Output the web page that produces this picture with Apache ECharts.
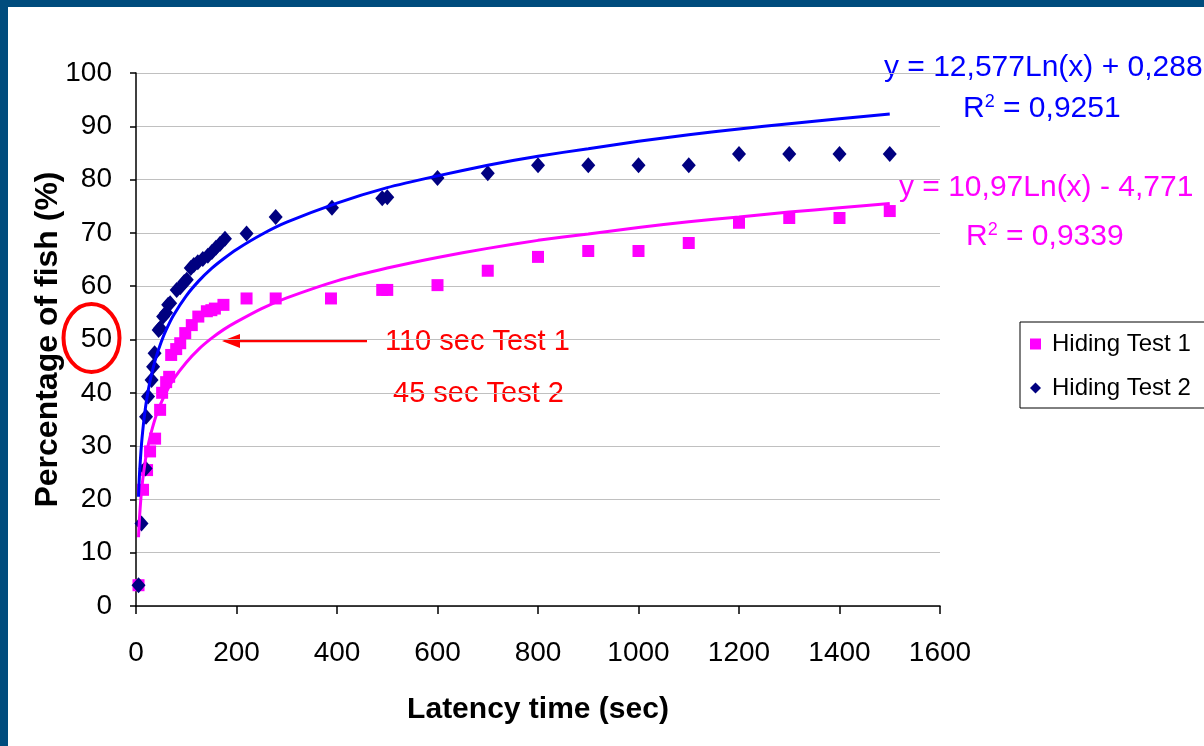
<!DOCTYPE html>
<html>
<head>
<meta charset="utf-8">
<script src="https://cdn.jsdelivr.net/npm/echarts@6/dist/echarts.min.js"></script>
<style>
  html, body { margin: 0; padding: 0; background: #004c7d; }
  #main {
    position: absolute;
    left: 8px;
    top: 7px;
    width: 1196px;
    height: 739px;
    background: #ffffff;
  }
</style>
</head>
<body>
<div id="main"></div>
<script>
// Hiding Test 1 (magenta squares)
var test1X = [5, 14, 22, 28, 38, 48, 52, 60, 66, 70, 80, 88, 98, 111, 124, 141, 150, 157, 174, 220, 278, 388, 490, 500, 600, 700, 800, 900, 1000, 1100, 1200, 1300, 1400, 1500];
var test1Y = [3.9, 21.8, 25.5, 29, 31.4, 36.8, 40, 42, 43, 47.1, 48.2, 49.3, 51.2, 52.7, 54.3, 55.3, 55.5, 55.8, 56.5, 57.7, 57.7, 57.7, 59.3, 59.3, 60.2, 62.9, 65.5, 66.6, 66.6, 68.1, 71.9, 72.8, 72.8, 74.1];

// Hiding Test 2 (navy diamonds)
var test2X = [5, 11, 19, 20, 24, 31, 34, 37, 45, 48, 54, 60, 64, 68, 81, 88, 96, 101, 109, 115, 123, 133, 143, 151, 159, 167, 177, 220, 278, 390, 490, 500, 600, 700, 800, 900, 1000, 1100, 1200, 1300, 1400, 1500];
var test2Y = [3.9, 15.5, 25.8, 35.5, 39.3, 42.4, 44.9, 47.4, 51.8, 52.1, 54.3, 55, 56.5, 56.8, 59.3, 59.8, 60.8, 61.2, 63.4, 64, 64.5, 65.1, 65.7, 66.4, 67.2, 67.9, 68.9, 69.9, 73, 74.7, 76.5, 76.7, 80.3, 81.2, 82.7, 82.7, 82.7, 82.7, 84.8, 84.8, 84.8, 84.8];

// trendlines
var trendX = [5, 6, 7, 8, 10, 12, 15, 20, 25, 30, 40, 50, 60, 75, 100, 125, 150, 175, 200, 250, 300, 400, 500, 600, 700, 800, 900, 1000, 1100, 1200, 1300, 1400, 1500];
var trend2Y = [20.5, 22.8, 24.8, 26.4, 29.2, 31.5, 34.3, 38.0, 40.8, 43.1, 46.7, 49.5, 51.8, 54.6, 58.2, 61.0, 63.3, 65.2, 66.9, 69.7, 72.0, 75.6, 78.5, 80.7, 82.7, 84.4, 85.8, 87.2, 88.4, 89.5, 90.5, 91.4, 92.3];
var trend1Y = [12.9, 14.9, 16.6, 18.0, 20.5, 22.5, 24.9, 28.1, 30.5, 32.5, 35.7, 38.1, 40.1, 42.6, 45.7, 48.2, 50.2, 51.9, 53.3, 55.8, 57.8, 61.0, 63.4, 65.4, 67.1, 68.6, 69.8, 71.0, 72.1, 73.0, 73.9, 74.7, 75.5];

var seriesNames = ['Hiding Test 1', 'Hiding Test 2'];
var eq2 = ['y = 12,577Ln(x) + 0,288', '0,9251'];
var eq1 = ['y = 10,97Ln(x) - 4,771', '0,9339'];
var notes = ['110 sec Test 1', '45 sec Test 2'];

function pairs(xs, ys) {
  return xs.map(function (x, i) { return [x, ys[i]]; });
}

var font = 'Liberation Sans, Arial, sans-serif';
var chart = echarts.init(document.getElementById('main'));

var option = {
  animation: false,
  grid: { left: 128, top: 66, width: 804, height: 533 },
  xAxis: {
    type: 'value',
    min: 0,
    max: 1600,
    interval: 200,
    name: 'Latency time (sec)',
    nameLocation: 'middle',
    nameGap: 89,
    nameMoveOverlap: false,
    nameTextStyle: { fontFamily: font, fontSize: 30, fontWeight: 'bold', color: '#000' },
    axisLine: { lineStyle: { color: '#000', width: 1.5 } },
    axisTick: { length: 8, lineStyle: { color: '#000', width: 1.5 } },
    axisLabel: {
      fontFamily: font, fontSize: 28, color: '#000', margin: 33,
      formatter: function (v) { return String(v); }
    },
    splitLine: { show: false }
  },
  yAxis: {
    type: 'value',
    min: 0,
    max: 100,
    interval: 10,
    name: 'Percentage of fish (%)',
    nameLocation: 'middle',
    nameGap: 72,
    nameMoveOverlap: false,
    nameTextStyle: { fontFamily: font, fontSize: 32, fontWeight: 'bold', color: '#000' },
    axisLine: { show: true, lineStyle: { color: '#000', width: 1.5 } },
    axisTick: { show: true, length: 6, lineStyle: { color: '#000', width: 1.5 } },
    axisLabel: { fontFamily: font, fontSize: 28, color: '#000', margin: 24 },
    splitLine: { lineStyle: { color: '#c0c0c0', width: 1.2 } }
  },
  legend: {
    data: seriesNames,
    orient: 'vertical',
    left: 1012,
    top: 315,
    padding: [10, 40, 8, 10],
    itemGap: 20,
    itemWidth: 11,
    itemHeight: 11,
    borderColor: '#000',
    borderWidth: 1,
    textStyle: { fontFamily: font, fontSize: 24, color: '#000', padding: [0, 0, 0, 6] }
  },
  series: [
    {
      name: seriesNames[0],
      type: 'scatter',
      symbol: 'rect',
      symbolSize: 12,
      itemStyle: { color: '#ff00ff', opacity: 1 },
      data: pairs(test1X, test1Y),
      z: 2
    },
    {
      name: seriesNames[1],
      type: 'scatter',
      symbol: 'diamond',
      symbolSize: [14, 16],
      itemStyle: { color: '#000080', opacity: 1 },
      data: pairs(test2X, test2Y),
      z: 3
    },
    {
      name: 'trend1',
      type: 'line',
      smooth: 0.2,
      showSymbol: false,
      lineStyle: { color: '#ff00ff', width: 3 },
      data: pairs(trendX, trend1Y),
      z: 4
    },
    {
      name: 'trend2',
      type: 'line',
      smooth: 0.2,
      showSymbol: false,
      lineStyle: { color: '#0000ff', width: 3 },
      data: pairs(trendX, trend2Y),
      z: 5
    }
  ],
  graphic: [
    // trendline equations
    {
      type: 'text', left: 876, top: 46,
      style: { text: eq2[0], fill: '#0000ff', font: '30px ' + font }
    },
    {
      type: 'text', left: 955, top: 86,
      style: {
        text: 'R{sup|2} = ' + eq2[1], fill: '#0000ff', font: '30px ' + font,
        rich: { sup: { fontSize: 18, fill: '#0000ff', verticalAlign: 'top', padding: [0, 0, 14, 0] } }
      }
    },
    {
      type: 'text', left: 891, top: 166,
      style: { text: eq1[0], fill: '#ff00ff', font: '30px ' + font }
    },
    {
      type: 'text', left: 958, top: 214,
      style: {
        text: 'R{sup|2} = ' + eq1[1], fill: '#ff00ff', font: '30px ' + font,
        rich: { sup: { fontSize: 18, fill: '#ff00ff', verticalAlign: 'top', padding: [0, 0, 14, 0] } }
      }
    },
    // red annotations
    {
      type: 'text', left: 377, top: 320,
      style: { text: notes[0], fill: '#ff0000', font: '29px ' + font }
    },
    {
      type: 'text', left: 385, top: 372,
      style: { text: notes[1], fill: '#ff0000', font: '29px ' + font }
    },
    {
      type: 'line',
      shape: { x1: 230, y1: 334, x2: 359, y2: 334 },
      style: { stroke: '#ff0000', lineWidth: 2.5 }
    },
    {
      type: 'polygon',
      shape: { points: [[214, 334], [232, 327], [232, 341]] },
      style: { fill: '#ff0000' }
    },
    {
      type: 'ellipse',
      shape: { cx: 83.5, cy: 331, rx: 28, ry: 34 },
      style: { fill: 'none', stroke: '#ff0000', lineWidth: 4 }
    }
  ]
};

chart.setOption(option);
</script>
</body>
</html>
